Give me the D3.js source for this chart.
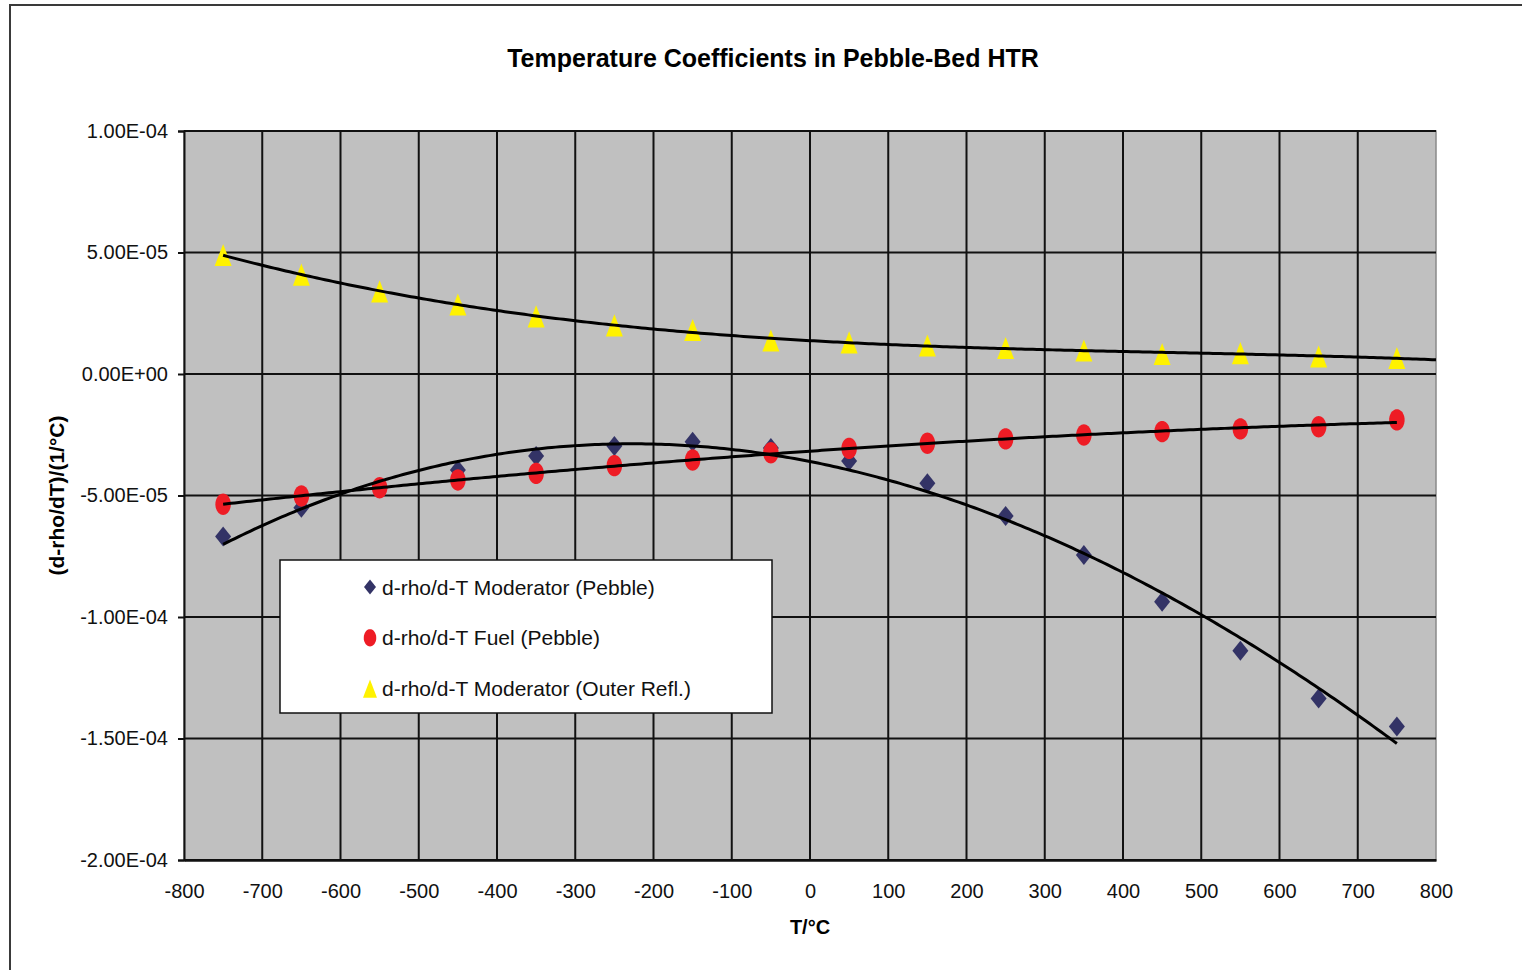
<!DOCTYPE html>
<html>
<head>
<meta charset="utf-8">
<script src="https://cdn.jsdelivr.net/npm/d3@7"></script>
<style>
  body { margin: 0; background: #fff; }
  svg { display: block; font-family: "Liberation Sans", Arial, sans-serif; }
</style>
</head>
<body>
<svg id="output"></svg>
<script>
// temperatures (deg C) where the coefficients were computed
const temps = [-750, -650, -550, -450, -350, -250, -150, -50, 50, 150, 250, 350, 450, 550, 650, 750];

const modPebble = [-6.69e-5, -5.5e-5, -4.7e-5, -3.95e-5, -3.37e-5, -2.96e-5, -2.79e-5, -3.05e-5,
                   -3.58e-5, -4.50e-5, -5.84e-5, -7.45e-5, -9.37e-5, -1.139e-4, -1.335e-4, -1.451e-4];
const fuelPebble = [-5.36e-5, -5.02e-5, -4.68e-5, -4.36e-5, -4.09e-5, -3.77e-5, -3.54e-5, -3.24e-5,
                    -3.06e-5, -2.85e-5, -2.67e-5, -2.51e-5, -2.37e-5, -2.26e-5, -2.17e-5, -1.89e-5];
const modOuter = [4.9e-5, 4.09e-5, 3.40e-5, 2.86e-5, 2.37e-5, 2.0e-5, 1.81e-5, 1.38e-5,
                  1.30e-5, 1.17e-5, 1.07e-5, 0.97e-5, 0.82e-5, 0.86e-5, 0.72e-5, 0.66e-5];

const xTicks = [-800, -700, -600, -500, -400, -300, -200, -100, 0, 100, 200, 300, 400, 500, 600, 700, 800];
const yTicks = [1e-4, 5e-5, 0, -5e-5, -1e-4, -1.5e-4, -2e-4];

const seriesNames = ["d-rho/d-T Moderator (Pebble)", "d-rho/d-T Fuel (Pebble)", "d-rho/d-T Moderator (Outer Refl.)"];

const width = 1522, height = 970;
const plotLeft = 184, plotRight = 1436, plotTop = 131, plotBottom = 860;

const svg = d3.select("#output").attr("width", width).attr("height", height);

const x = d3.scaleLinear().domain([-800, 800]).range([plotLeft, plotRight]);
const y = d3.scaleLinear().domain([-2e-4, 1e-4]).range([plotBottom, plotTop]);

// excel style "1.00E-04"
function sci(v){
    const parts = v.toExponential(2).split("e");
    const e = parseInt(parts[1]);
    return parts[0] + "E" + (e < 0 ? "-" : "+") + String(Math.abs(e)).padStart(2, "0");
}

// least squares polynomial, like the excel trendlines
function polyfit(xs, ys, deg){
    const n = deg + 1;
    const A = [];
    for(let i=0; i<n; i++){
        A.push(new Array(n + 1).fill(0));
    }
    xs.forEach(function(xv, k){
        const u = xv / 1000, w = ys[k] * 1e5;
        for(let i=0; i<n; i++){
            for(let j=0; j<n; j++) A[i][j] += Math.pow(u, i + j);
            A[i][n] += Math.pow(u, i) * w;
        }
    });
    for(let i=0; i<n; i++){
        let p = i;
        for(let r=i+1; r<n; r++) if(Math.abs(A[r][i]) > Math.abs(A[p][i])) p = r;
        [A[i], A[p]] = [A[p], A[i]];
        for(let r=0; r<n; r++){
            if(r === i) continue;
            const f = A[r][i] / A[i][i];
            for(let c=i; c<=n; c++) A[r][c] -= f * A[i][c];
        }
    }
    const coef = A.map(function(row, i){ return row[n] / row[i]; });
    return function(xv){
        const u = xv / 1000;
        let s = 0;
        for(let i=0; i<n; i++) s += coef[i] * Math.pow(u, i);
        return s / 1e5;
    };
}

// outer chart frame
svg.append("rect")
    .attr("x", 10).attr("y", 5)
    .attr("width", 1540).attr("height", 990)
    .attr("fill", "#fff")
    .attr("stroke", "#3a3a3a")
    .attr("stroke-width", 2);

svg.append("text")
    .attr("x", 773).attr("y", 67)
    .attr("text-anchor", "middle")
    .attr("font-size", 25)
    .attr("font-weight", "bold")
    .text("Temperature Coefficients in Pebble-Bed HTR");

// plot area
svg.append("rect")
    .attr("x", plotLeft).attr("y", plotTop)
    .attr("width", plotRight - plotLeft).attr("height", plotBottom - plotTop)
    .attr("fill", "#c0c0c0")
    .attr("stroke", "#8a8a8a")
    .attr("stroke-width", 1.5);

svg.append("g").selectAll("line")
    .data(xTicks.filter(function(t){ return t > -800 && t < 800; }))
    .enter().append("line")
    .attr("x1", function(d){ return x(d); }).attr("x2", function(d){ return x(d); })
    .attr("y1", plotTop).attr("y2", plotBottom)
    .attr("stroke", "#111").attr("stroke-width", 2);

svg.append("g").selectAll("line")
    .data(yTicks)
    .enter().append("line")
    .attr("x1", plotLeft).attr("x2", plotRight)
    .attr("y1", function(d){ return y(d); }).attr("y2", function(d){ return y(d); })
    .attr("stroke", "#111").attr("stroke-width", 2);

const yAxis = svg.append("g")
    .attr("transform", "translate(" + plotLeft + ",0)")
    .call(d3.axisLeft(y).tickValues(yTicks).tickFormat(sci).tickSize(6).tickPadding(10));
yAxis.selectAll("text").attr("font-size", 20).attr("fill", "#111");
yAxis.selectAll("line, path").attr("stroke", "#111").attr("stroke-width", 2);

// plain hyphen for negatives, as in the original
const xAxis = svg.append("g")
    .attr("transform", "translate(0," + plotBottom + ")")
    .call(d3.axisBottom(x).tickValues(xTicks).tickFormat(function(d){ return String(d); }).tickSize(0).tickPadding(24));
xAxis.selectAll("text").attr("font-size", 20).attr("fill", "#111");
xAxis.select("path").attr("stroke", "#111").attr("stroke-width", 2.5);

svg.append("text")
    .attr("x", x(0)).attr("y", 934)
    .attr("text-anchor", "middle")
    .attr("font-size", 20)
    .attr("font-weight", "bold")
    .text("T/°C");

svg.append("text")
    .attr("transform", "translate(56," + ((plotTop + plotBottom) / 2) + ") rotate(-90)")
    .attr("text-anchor", "middle")
    .attr("dominant-baseline", "central")
    .attr("font-size", 21)
    .attr("font-weight", "bold")
    .text("(d-rho/dT)/(1/°C)");

// marker shapes (the picture is a bit stretched vertically)
const diamond = {
    draw: function(ctx, size){
        const w = Math.sqrt(size) / 2, h = w * 1.25;
        ctx.moveTo(0, -h); ctx.lineTo(w, 0); ctx.lineTo(0, h); ctx.lineTo(-w, 0); ctx.closePath();
    }
};
const ellipse = {
    draw: function(ctx, size){
        const r = Math.sqrt(size) / 2, k = 1.38;
        const n = 40;
        for(let i=0; i<=n; i++){
            const a = i / n * 2 * Math.PI;
            if(i === 0) ctx.moveTo(r, 0); else ctx.lineTo(r * Math.cos(a), r * k * Math.sin(a));
        }
        ctx.closePath();
    }
};
const triangle = {
    draw: function(ctx, size){
        const w = Math.sqrt(size) / 2, h = w * 1.3;
        ctx.moveTo(0, -h); ctx.lineTo(w, h); ctx.lineTo(-w, h); ctx.closePath();
    }
};

const series = [
    {values: modPebble, color: "#333366", shape: diamond, size: 16 * 16, deg: 3, end: 750},
    {values: fuelPebble, color: "#ee1c25", shape: ellipse, size: 15.5 * 15.5, deg: 2, end: 750},
    {values: modOuter, color: "#fff200", shape: triangle, size: 17 * 17, deg: 3, end: 800}
];

series.forEach(function(s){
    svg.append("g").selectAll("path")
        .data(temps)
        .enter().append("path")
        .attr("transform", function(d, i){ return "translate(" + x(d) + "," + y(s.values[i]) + ")"; })
        .attr("d", d3.symbol().type(s.shape).size(s.size))
        .attr("fill", s.color);
});

// trendlines on top of the markers
series.forEach(function(s){
    const fit = polyfit(temps, s.values, s.deg);
    const pts = d3.range(-750, s.end + 0.1, 5);
    svg.append("path")
        .datum(pts)
        .attr("d", d3.line().x(function(d){ return x(d); }).y(function(d){ return y(fit(d)); }))
        .attr("fill", "none")
        .attr("stroke", "#000")
        .attr("stroke-width", 3);
});

// legend
const legend = svg.append("g");
legend.append("rect")
    .attr("x", 280).attr("y", 560)
    .attr("width", 492).attr("height", 153)
    .attr("fill", "#fff")
    .attr("stroke", "#111")
    .attr("stroke-width", 1.5);

const legendSizes = [12 * 12, 12.5 * 12.5, 14 * 14];
series.forEach(function(s, i){
    const ly = 587 + i * 50.8;
    legend.append("path")
        .attr("transform", "translate(370," + ly + ")")
        .attr("d", d3.symbol().type(s.shape).size(legendSizes[i]))
        .attr("fill", s.color);
    legend.append("text")
        .attr("x", 382).attr("y", ly)
        .attr("dominant-baseline", "central")
        .attr("font-size", 21)
        .attr("fill", "#111")
        .text(seriesNames[i]);
});
</script>
</body>
</html>
